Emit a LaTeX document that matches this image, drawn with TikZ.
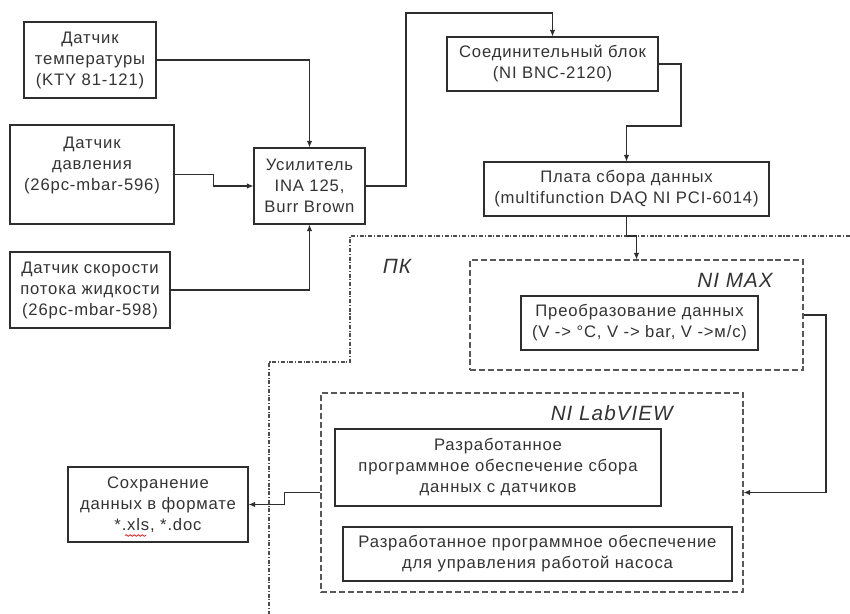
\documentclass[tikz,border=0pt]{standalone}
\usepackage{fontspec}
\setmainfont{Liberation Sans}[LetterSpace=5]
\usetikzlibrary{arrows.meta,decorations.pathmorphing}
\definecolor{ink}{HTML}{2E2E2E}
\definecolor{txt}{HTML}{333333}
\begin{document}
\begin{tikzpicture}[x=0.75pt,y=-0.75pt,
  sz/.style 2 args={minimum width=#1*0.75pt,minimum height=#2*0.75pt},
  box/.style={draw=ink,line width=0.8pt,rectangle,align=center,inner sep=0pt,
    text=txt,font=\fontsize{12.5}{15.75}\selectfont},
  grp/.style={draw=ink!80,line width=0.8pt,dash pattern=on 4.5pt off 2.2pt,rectangle,inner sep=0pt},
  lbl/.style={text=txt,font=\fontsize{15.5}{18}\selectfont\itshape,inner sep=0pt},
  arr/.style={draw=ink,line width=0.8pt,-{Latex[length=5pt,width=4.2pt]}},
  pk/.style={draw=ink!85,line width=0.8pt,dash pattern=on 3pt off 1.3pt on 0.8pt off 1.3pt}]
\useasboundingbox (0,0) rectangle (850,614);

% sensors
\node[box,sz={132}{76}] (temp) at (90,60) {Датчик\\температуры\\(KTY 81-121)};
\node[box,sz={164}{99}] (press) at (92,174.5) {Датчик\\давления\\(26pc-mbar-596)\\\mbox{}};
\node[box,sz={160}{76}] (flow) at (90,290) {Датчик скорости\\потока жидкости\\(26pc-mbar-598)};
\node[box,sz={111}{76}] (amp) at (309.5,186) {Усилитель\\INA 125,\\Burr Brown};

% hardware chain
\node[box,sz={211}{54}] (conn) at (552.5,64) {Соединительный блок\\(NI BNC-2120)};
\node[box,sz={285}{54}] (daq) at (626.5,189) {Плата сбора данных\\(multifunction DAQ NI PCI-6014)};

% NI MAX group
\node[grp,sz={333}{110}] (nimax) at (636.5,315) {};
\node[lbl,anchor=east] (nimaxl) at (773,280) {NI MAX};
\node[box,sz={237}{54}] (conv) at (639.5,323) {Преобразование данных\\(V -> °C, V -> bar, V ->м/с)};

% LabVIEW group
\node[grp,sz={422}{199}] (lv) at (532,492.5) {};
\node[lbl,anchor=east] (lvl) at (673,413) {NI LabVIEW};
\node[box,sz={326}{77}] (sw1) at (498,467.5) {Разработанное\\программное обеспечение сбора\\данных с датчиков};
\node[box,sz={389}{54}] (sw2) at (537.5,554) {Разработанное программное обеспечение\\для управления работой насоса};

% save
\node[box,sz={180}{75}] (save) at (158,504.5) {Сохранение\\данных в формате\\*.xls, *.doc};
\draw[red!85!black,line width=0.5pt,decorate,decoration={snake,amplitude=0.6pt,segment length=3pt}] (125,535.5) -- (146,535.5);

% PC boundary
\node[lbl] (pc) at (397,266) {ПК};
\coordinate (pa) at (850,236);
\coordinate (pb) at (350,236);
\coordinate (pcn) at (350,362);
\coordinate (pd) at (269,362);
\coordinate (pe) at (269,614);
\draw[pk] (pa) -- (pb) -- (pcn) -- (pd) -- (pe);

% connectors
\draw[arr] (temp.east) -| (amp.north);
\draw[arr] (press.east) -- ++(39,0) |- (amp.west);
\draw[arr] (flow.east) -| (amp.south);
\coordinate (t1) at (406,13);
\draw[arr] (amp.east) -| (t1) -| (conn.north);
\coordinate (t2) at (681,126);
\draw[arr] (conn.east) -| (t2) -| (daq.north);
\coordinate (t3) at (636.5,236);
\draw[arr] (daq.south) |- (t3) -- (nimax.north);
\coordinate (t4) at (826,492.5);
\draw[arr] (nimax.east) -| (t4) -- (lv.east);
\draw[arr] (lv.west) -- ++(-36,0) |- (save.east);
\end{tikzpicture}
\end{document}
